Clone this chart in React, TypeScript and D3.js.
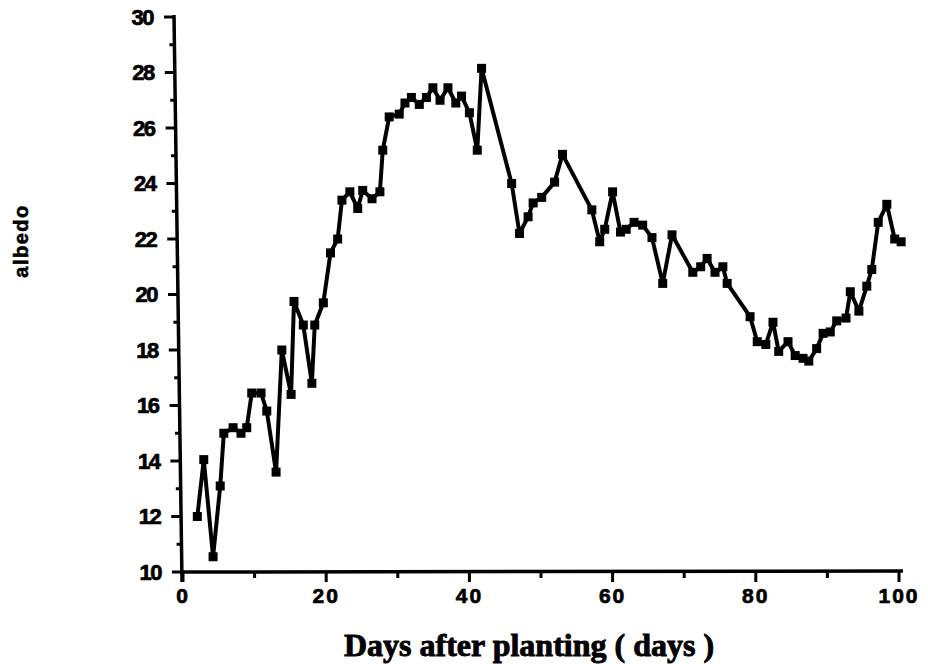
import React from "react";
import * as d3 from "d3";

const days = [
  2, 2.9, 4.2, 5.2, 5.7, 7.0, 8.1, 8.9, 9.6, 10.9, 11.7, 13.0, 13.8, 15.1, 15.5,
  16.8, 18.0, 18.4, 19.6, 20.6, 21.6, 22.2, 23.3, 24.4, 25.1, 26.4, 27.5, 27.9,
  28.8, 30.2, 31.0, 31.9, 33.0, 34.0, 34.9, 35.9, 37.0, 38.1, 38.9, 40.0, 41.1,
  41.7, 45.9, 47.0, 48.2, 48.9, 50.1, 51.9, 53.0, 57.1, 58.2, 58.9, 60.0, 61.1,
  61.9, 63.0, 64.2, 65.5, 67.0, 68.3, 71.2, 72.3, 73.2, 74.3, 75.4, 76.0, 79.2,
  80.2, 81.4, 82.4, 83.2, 84.5, 85.5, 86.6, 87.4, 88.5, 89.4, 90.4, 91.3, 92.6,
  93.2, 94.4, 95.5, 96.2, 97.1, 98.3, 99.4, 100.3,
];
const albedo = [
  12.0, 14.05, 10.55, 13.1, 15.0, 15.2, 15.0, 15.2, 16.45, 16.45, 15.8, 13.6,
  18.0, 16.4, 19.75, 18.9, 16.8, 18.9, 19.7, 21.5, 22.0, 23.4, 23.7, 23.1, 23.75,
  23.45, 23.7, 25.2, 26.4, 26.5, 26.9, 27.1, 26.85, 27.1, 27.45, 27.0, 27.45,
  26.9, 27.15, 26.55, 25.2, 28.15, 24.0, 22.2, 22.8, 23.3, 23.5, 24.05, 25.05,
  23.05, 21.9, 22.35, 23.7, 22.25, 22.35, 22.6, 22.5, 22.05, 20.4, 22.15, 20.8,
  21.0, 21.3, 20.8, 21.0, 20.4, 19.2, 18.3, 18.2, 19.0, 17.95, 18.3, 17.8, 17.7,
  17.6, 18.05, 18.6, 18.65, 19.05, 19.15, 20.1, 19.4, 20.3, 20.9, 22.6, 23.25,
  22.0, 21.9,
];
const xTicks = [0, 20, 40, 60, 80, 100];
const xMinor = [10, 30, 50, 70, 90];
const yTicks = [10, 12, 14, 16, 18, 20, 22, 24, 26, 28, 30];
const yMinor = [11, 13, 15, 17, 19, 21, 23, 25, 27, 29];

const W = 928;
const H = 664;

export default function App() {
  const x = d3.scaleLinear().domain([0, 100]).range([183, 899]);
  const y = d3.scaleLinear().domain([10, 30]).range([572, 17]);
  // the scanned y axis leans a little to the left towards the top
  const lean = d3.scaleLinear().domain([10, 30]).range([182, 174]);
  const pts = days.map((d, i) => [d, albedo[i]] as [number, number]);
  const line = d3
    .line<[number, number]>()
    .x((d) => x(d[0]))
    .y((d) => y(d[1]));
  const tickFont = "'Liberation Sans', Arial, sans-serif";
  const y0 = y(10);

  return (
    <svg
      width={W}
      height={H}
      style={{ position: "absolute", left: 0, top: 0, background: "#fff" }}
    >
      {/* axes */}
      <line
        x1={lean(30)}
        x2={lean(10)}
        y1={y(30) - 2}
        y2={y0 + 10}
        stroke="#000"
        strokeWidth={3.5}
      />
      <line x1={lean(10) - 2} x2={x(100) + 4} y1={y0} y2={y0 - 1} stroke="#000" strokeWidth={3.5} />
      {yTicks.map((t) => (
        <g key={"y" + t}>
          <line x1={lean(t) - 10} x2={lean(t)} y1={y(t)} y2={y(t)} stroke="#000" strokeWidth={3} />
          <text
            x={lean(t) - 21}
            y={y(t)}
            dy="0.36em"
            textAnchor="end"
            fontFamily={tickFont}
            fontWeight="bold"
            fontSize={22}
            letterSpacing={-1.5}
            stroke="#000"
            strokeWidth={0.7}
          >
            {t}
          </text>
        </g>
      ))}
      {yMinor.map((t) => (
        <line key={"ym" + t} x1={lean(t) - 5} x2={lean(t)} y1={y(t)} y2={y(t)} stroke="#000" strokeWidth={3} />
      ))}
      {xTicks.map((t) => (
        <g key={"x" + t}>
          <line x1={x(t)} x2={x(t)} y1={y0} y2={y0 + 10} stroke="#000" strokeWidth={3} />
          <text
            x={x(t)}
            y={603}
            textAnchor="middle"
            fontFamily={tickFont}
            fontWeight="bold"
            fontSize={21}
            letterSpacing={2}
            stroke="#000"
            strokeWidth={0.7}
          >
            {t}
          </text>
        </g>
      ))}
      {xMinor.map((t) => (
        <line key={"xm" + t} x1={x(t)} x2={x(t)} y1={y0} y2={y0 + 6} stroke="#000" strokeWidth={3} />
      ))}

      {/* series */}
      <path d={line(pts) ?? ""} fill="none" stroke="#000" strokeWidth={4} strokeLinejoin="round" />
      {pts.map((p, i) => (
        <rect key={i} x={x(p[0]) - 4.5} y={y(p[1]) - 4.5} width={9} height={9} fill="#000" />
      ))}

      {/* titles */}
      <text
        x={529}
        y={656}
        textAnchor="middle"
        fontFamily="'Liberation Serif', 'Times New Roman', serif"
        fontWeight="bold"
        fontSize={32}
        stroke="#000"
        strokeWidth={0.9}
      >
        Days after planting ( days )
      </text>
      <text
        transform="translate(28,241) rotate(-90)"
        textAnchor="middle"
        fontFamily={tickFont}
        fontWeight="bold"
        fontSize={20}
        letterSpacing={1.5}
        stroke="#000"
        strokeWidth={0.6}
      >
        albedo
      </text>
    </svg>
  );
}
